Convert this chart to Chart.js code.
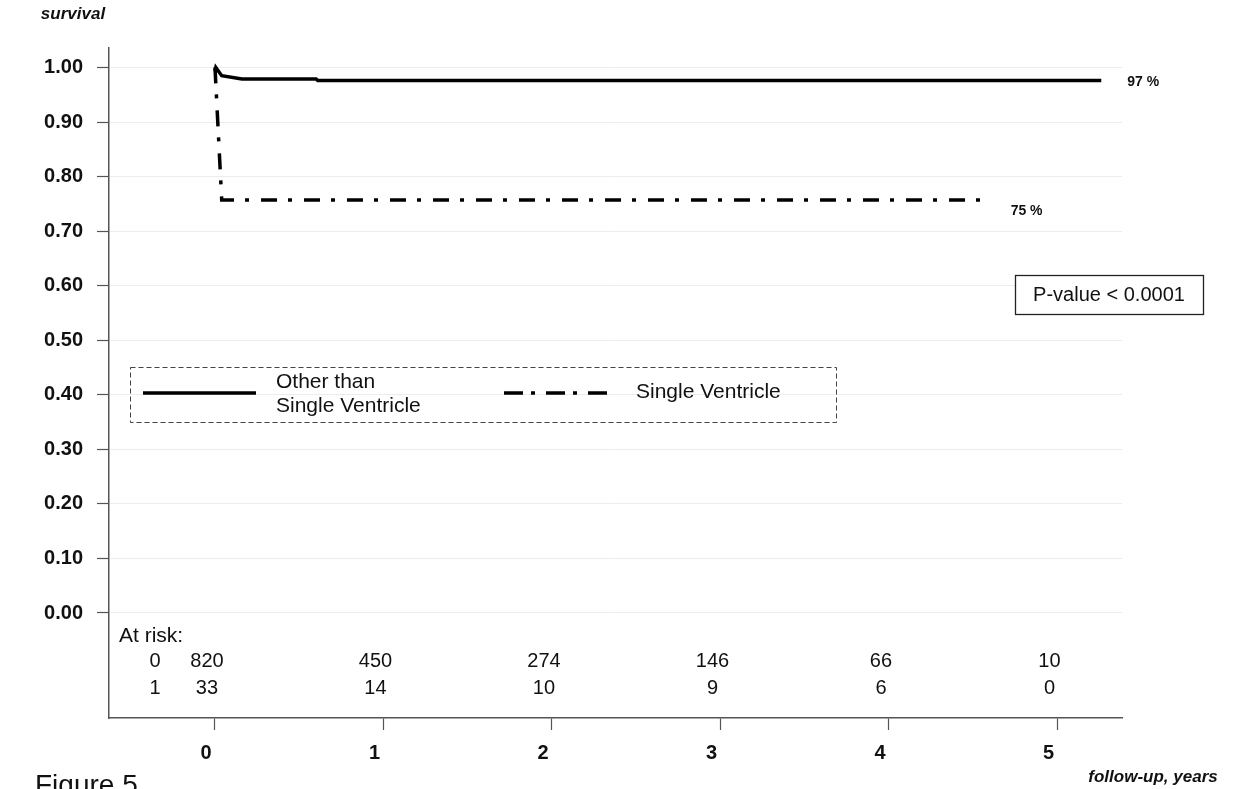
<!DOCTYPE html>
<html>
<head>
<meta charset="utf-8">
<script src="https://cdn.jsdelivr.net/npm/chart.js@4.4.1/dist/chart.umd.min.js"></script>
<style>
  html, body { margin: 0; padding: 0; background: #fff; overflow: hidden; }
  canvas { display: block; }
</style>
</head>
<body>
<canvas id="km" width="1236" height="789"></canvas>
<script>
// Kaplan-Meier survival, follow-up in years
const otherTimes  = [0, 0.005, 0.04, 0.16, 0.60, 0.61, 5.26];
const otherSurv   = [0.993, 1.0, 0.985, 0.979, 0.979, 0.976, 0.976];
const singleTimes = [0, 0.04, 4.55];
const singleSurv  = [1.0, 0.757, 0.757];

const seriesNames = ['Other than\nSingle Ventricle', 'Single Ventricle'];

// Numbers at risk at each yearly mark
const riskTimes  = [0, 1, 2, 3, 4, 5];
const riskOther  = [820, 450, 274, 146, 66, 10];
const riskSingle = [33, 14, 10, 9, 6, 0];
const riskGroups = ['0', '1'];

const yTicks = [0, 0.1, 0.2, 0.3, 0.4, 0.5, 0.6, 0.7, 0.8, 0.9, 1.0];
const xTicks = [0, 1, 2, 3, 4, 5];

const pValueText = 'P-value < 0.0001';

const FONT = '"Liberation Sans", Arial, Helvetica, sans-serif';
const INK = '#111';

const toPoints = (xs, ys) => xs.map((t, i) => ({ x: t, y: ys[i] }));

const DASH_DOT = [16, 11, 4, 12];

const annotate = {
  id: 'annotate',
  afterDraw(chart) {
    const { ctx, scales: { x, y } } = chart;
    ctx.save();
    ctx.fillStyle = INK;

    // axis captions
    ctx.font = 'italic bold 17px ' + FONT;
    ctx.textAlign = 'center';
    ctx.textBaseline = 'middle';
    ctx.fillText('survival', 73, 14);
    ctx.fillText('follow-up, years', 1153, 777);

    // figure caption
    ctx.font = '28px ' + FONT;
    ctx.textAlign = 'left';
    ctx.textBaseline = 'alphabetic';
    ctx.fillText('Figure 5', 35, 794);

    // end-of-curve survival percentages
    ctx.font = 'bold 14px ' + FONT;
    ctx.textBaseline = 'middle';
    const oEnd = otherTimes.length - 1;
    const sEnd = singleTimes.length - 1;
    ctx.fillText(Math.floor(otherSurv[oEnd] * 100) + ' %',
      x.getPixelForValue(otherTimes[oEnd]) + 26, y.getPixelForValue(otherSurv[oEnd]) + 2);
    ctx.fillText(Math.floor(singleSurv[sEnd] * 100) + ' %',
      x.getPixelForValue(singleTimes[sEnd]) + 29, y.getPixelForValue(singleSurv[sEnd]) + 11);

    // numbers-at-risk table
    ctx.font = '21px ' + FONT;
    ctx.textAlign = 'left';
    ctx.fillText('At risk:', 119, y.getPixelForValue(-0.042));
    ctx.font = '20px ' + FONT;
    ctx.textAlign = 'center';
    const rowY = [y.getPixelForValue(-0.0898), y.getPixelForValue(-0.1375)];
    const rows = [riskOther, riskSingle];
    rows.forEach((vals, r) => {
      ctx.fillText(riskGroups[r], x.getPixelForValue(-0.356), rowY[r]);
      vals.forEach((v, i) => {
        ctx.fillText(String(v), x.getPixelForValue(riskTimes[i]) - 8, rowY[r]);
      });
    });

    // legend box
    ctx.strokeStyle = '#444';
    ctx.lineWidth = 1;
    ctx.setLineDash([5, 3]);
    ctx.strokeRect(130.5, 367.5, 706, 55);

    ctx.lineWidth = 3.5;
    ctx.strokeStyle = '#000';
    ctx.lineCap = 'butt';
    ctx.setLineDash([]);
    ctx.beginPath(); ctx.moveTo(143, 393); ctx.lineTo(256, 393); ctx.stroke();
    ctx.setLineDash([19, 8, 4, 11]);
    ctx.beginPath(); ctx.moveTo(504, 393); ctx.lineTo(607, 393); ctx.stroke();
    ctx.setLineDash([]);

    ctx.font = '21px ' + FONT;
    ctx.textAlign = 'left';
    const firstLines = seriesNames[0].split('\n');
    ctx.fillText(firstLines[0], 276, 382);
    ctx.fillText(firstLines[1], 276, 406);
    ctx.fillText(seriesNames[1], 636, 392);

    // p-value box
    ctx.fillStyle = '#fff';
    ctx.fillRect(1015, 275, 188, 39);
    ctx.strokeStyle = '#222';
    ctx.lineWidth = 1.3;
    ctx.strokeRect(1015.5, 275.5, 188, 39);
    ctx.fillStyle = INK;
    ctx.font = '20px ' + FONT;
    ctx.textAlign = 'center';
    ctx.fillText(pValueText, 1109, 295);

    ctx.restore();
  }
};

new Chart(document.getElementById('km'), {
  type: 'line',
  data: {
    datasets: [
      {
        label: seriesNames[0].replace('\n', ' '),
        data: toPoints(otherTimes, otherSurv),
        borderColor: '#000',
        borderWidth: 3.5,
        pointRadius: 0,
        tension: 0,
        fill: false
      },
      {
        label: seriesNames[1],
        data: toPoints(singleTimes, singleSurv),
        borderColor: '#000',
        borderWidth: 3.5,
        borderDash: DASH_DOT,
        borderCapStyle: 'butt',
        pointRadius: 0,
        tension: 0,
        fill: false
      }
    ]
  },
  options: {
    responsive: false,
    animation: false,
    devicePixelRatio: 1,
    layout: { padding: { top: 48, right: 114, left: 0, bottom: 0 } },
    plugins: {
      legend: { display: false },
      tooltip: { enabled: false }
    },
    scales: {
      x: {
        type: 'linear',
        min: -0.629,
        max: 5.383,
        afterBuildTicks: (s) => { s.ticks = xTicks.map(v => ({ value: v })); },
        afterFit: (s) => { s.height = 71; },
        grid: {
          drawOnChartArea: false,
          drawTicks: true,
          tickLength: 12,
          tickColor: '#555',
          tickWidth: 1.2
        },
        border: { display: true, color: '#555', width: 1.5 },
        ticks: {
          color: INK,
          font: { family: FONT, size: 20, weight: 'bold' },
          padding: 11,
          labelOffset: -9,
          maxRotation: 0,
          callback: (v) => String(v)
        }
      },
      y: {
        type: 'linear',
        min: -0.1925,
        max: 1.0357,
        afterBuildTicks: (s) => { s.ticks = yTicks.map(v => ({ value: v })); },
        afterFit: (s) => { s.width = 109; },
        grid: {
          color: '#ececec',
          lineWidth: 1,
          drawTicks: true,
          tickLength: 12,
          tickColor: '#555',
          tickWidth: 1.2
        },
        border: { display: true, color: '#555', width: 1.5 },
        ticks: {
          color: INK,
          font: { family: FONT, size: 20, weight: 'bold' },
          padding: 14,
          callback: (v) => Number(v).toFixed(2)
        }
      }
    }
  },
  plugins: [annotate]
});
</script>
</body>
</html>
